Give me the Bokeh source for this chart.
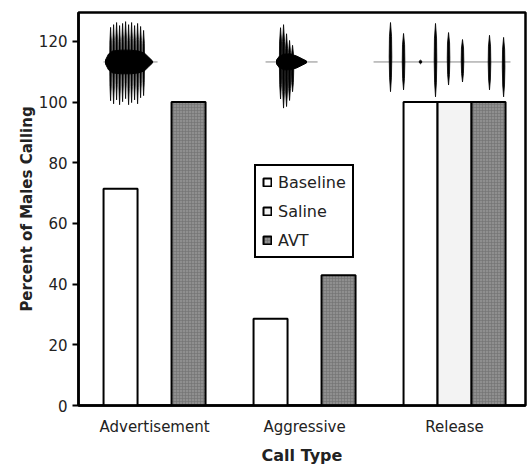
import numpy as np
from bokeh.plotting import figure
from bokeh.models import Range1d, FixedTicker, Legend, LegendItem
from bokeh.embed import file_html
from bokeh.resources import INLINE

# ---- data ----
call_types = ["Advertisement", "Aggressive", "Release"]
baseline = [71.4, 28.6, 100.0]
saline = [0.0, 0.0, 100.0]
avt = [100.0, 42.9, 100.0]
y_ticks = [0, 20, 40, 60, 80, 100, 120]

# oscillogram insets (x in group units, y in percent units)
wave_center = 113.2
ad_line = [0.66, 1.02]
ad_spike_x = [0.707, 0.727, 0.747, 0.767, 0.787, 0.807, 0.827, 0.847, 0.867, 0.887, 0.907, 0.927]
ad_spike_top = [124.6, 125.5, 126.2, 125.2, 125.9, 126.5, 125.5, 126.2, 125.2, 125.9, 124.9, 123.6]
ad_spike_bot = [100.4, 99.4, 100.7, 99.1, 100.1, 101.1, 99.1, 99.8, 100.7, 99.4, 101.4, 102.1]
ad_env_x = [0.673, 0.693, 0.72, 0.773, 0.84, 0.893, 0.933, 0.96, 0.987]
ad_env_h = [0.65, 2.6, 3.6, 3.9, 3.9, 3.6, 2.9, 1.6, 0.3]

ag_line = [1.74, 2.087]
ag_spike_x = [1.84, 1.86, 1.88, 1.90, 1.92]
ag_spike_top = [124.5, 125.5, 122.5, 120.3, 118.7]
ag_spike_bot = [101.0, 98.0, 98.5, 100.5, 103.4]
ag_env_x = [1.813, 1.833, 1.867, 1.907, 1.947, 1.987, 2.013]
ag_env_h = [0.65, 1.96, 2.6, 2.6, 1.96, 0.98, 0.33]

re_line = [2.46, 3.373]
re_spike_x = [2.573, 2.66, 2.773, 2.873, 2.96, 3.053, 3.233, 3.327]
re_spike_top = [126.2, 122.6, 113.8, 125.9, 122.9, 120.6, 122.0, 121.3]
re_spike_bot = [103.4, 104.0, 112.6, 101.7, 105.6, 106.6, 104.0, 101.7]

FONT = "DejaVu Sans"
PX = 1.0 / 150.0  # one screen pixel in x units

p = figure(width=528, height=467, output_backend="svg", toolbar_location=None,
           x_range=Range1d(0.493, 3.473), y_range=Range1d(0, 129.5),
           min_border_left=78, min_border_right=3, min_border_top=12, min_border_bottom=58)
p.xgrid.visible = False
p.ygrid.visible = False
p.outline_line_color = "black"
p.outline_line_width = 2.5
p.background_fill_color = "white"
p.border_fill_color = "white"

group_x = np.arange(1, len(call_types) + 1, dtype=float)
bw = 34.0 / 150.0

r_base = p.vbar(x=group_x - bw, top=baseline, width=bw, bottom=0,
                fill_color="white", line_color="black", line_width=2)
r_sal = p.vbar(x=group_x, top=saline, width=bw, bottom=0,
               fill_color="#f3f3f3", line_color="black", line_width=2)
r_avt = p.vbar(x=group_x + bw, top=avt, width=bw, bottom=0,
               fill_color="#8f8f8f", line_color="black", line_width=2,
               hatch_pattern="+", hatch_color="#707070", hatch_scale=3, hatch_weight=0.6)


def spindles(sx, st, sb, half_w):
    """Tapered vertical pulse shapes (thin spindles) around each spike."""
    xs, ys = [], []
    for x, t, b in zip(sx, st, sb):
        h = t - b
        xs.append([x, x + half_w * 0.8, x + half_w, x + half_w * 0.7, x,
                   x - half_w * 0.7, x - half_w, x - half_w * 0.8])
        ys.append([t, t - 0.2 * h, t - 0.5 * h, t - 0.8 * h, b,
                   t - 0.8 * h, t - 0.5 * h, t - 0.2 * h])
    return xs, ys


# oscillograms
for lx, sx, st, sb, hw in [(ad_line, ad_spike_x, ad_spike_top, ad_spike_bot, 0.9 * PX),
                           (ag_line, ag_spike_x, ag_spike_top, ag_spike_bot, 1.2 * PX),
                           (re_line, re_spike_x, re_spike_top, re_spike_bot, 1.3 * PX)]:
    p.line(x=lx, y=[wave_center, wave_center], line_color="#888888", line_width=1)
    xs, ys = spindles(sx, st, sb, hw)
    p.patches(xs=xs, ys=ys, fill_color="black", line_color="black", line_width=0.8)

for ex, eh in [(ad_env_x, ad_env_h), (ag_env_x, ag_env_h)]:
    ex = np.array(ex); eh = np.array(eh)
    px = np.concatenate([ex, ex[::-1]])
    py = np.concatenate([wave_center + eh, (wave_center - eh)[::-1]])
    p.patch(x=px, y=py, fill_color="black", line_color="black", line_width=1)

# axes
p.yaxis.ticker = FixedTicker(ticks=y_ticks)
p.yaxis.minor_tick_line_color = None
p.yaxis.major_tick_out = 6
p.yaxis.major_tick_in = 0
p.yaxis.major_tick_line_width = 2
p.yaxis.axis_line_width = 2.5
p.yaxis.major_label_standoff = 5
p.yaxis.axis_label = "Percent of Males Calling"
p.yaxis.axis_label_standoff = 0

p.xaxis.ticker = FixedTicker(ticks=list(group_x))
p.xaxis.major_label_overrides = {float(g): c for g, c in zip(group_x, call_types)}
p.xaxis.major_tick_out = 0
p.xaxis.major_tick_in = 0
p.xaxis.minor_tick_line_color = None
p.xaxis.axis_line_width = 2.5
p.xaxis.major_label_standoff = 12
p.xaxis.axis_label = "Call Type"
p.xaxis.axis_label_standoff = 7

for ax in [p.xaxis[0], p.yaxis[0]]:
    ax.major_label_text_font = FONT
    ax.major_label_text_font_size = "15px"
    ax.major_label_text_color = "#222222"
    ax.axis_label_text_font = FONT
    ax.axis_label_text_font_style = "bold"
    ax.axis_label_text_color = "#222222"
p.xaxis.axis_label_text_font_size = "16px"
p.yaxis.axis_label_text_font_size = "15px"

legend = Legend(items=[LegendItem(label="Baseline", renderers=[r_base]),
                       LegendItem(label="Saline", renderers=[r_sal]),
                       LegendItem(label="AVT", renderers=[r_avt])],
                location=(176, 147), orientation="vertical")
legend.glyph_width = 10
legend.glyph_height = 10
legend.label_height = 20
legend.spacing = 9
legend.padding = 6
legend.margin = 0
legend.label_standoff = 6
legend.label_text_font = FONT
legend.label_text_font_size = "16px"
legend.label_text_color = "#222222"
legend.border_line_color = "black"
legend.border_line_alpha = 1
legend.border_line_width = 2
legend.background_fill_alpha = 1
p.add_layout(legend, "center")

open("out.html", "w").write(file_html(p, INLINE))
